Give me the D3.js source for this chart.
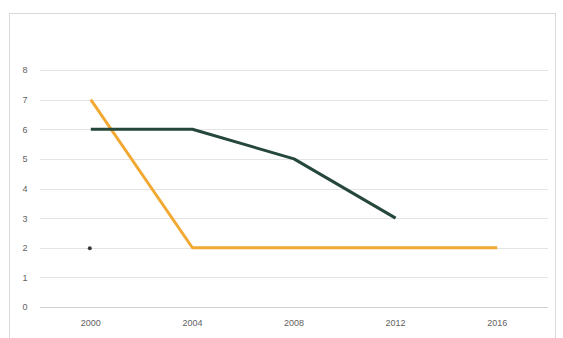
<!DOCTYPE html>
<html><head><meta charset="utf-8">
<script src="https://cdn.jsdelivr.net/npm/d3@7"></script>
<style>body{margin:0;background:#fff}</style>
</head><body>
<svg id="c" width="563" height="338"></svg>
<script>
const categories = ["2000","2004","2008","2012","2016"];
const seriesGreen = [6, 6, 5, 3, null];
const seriesOrange = [7, 2, 2, 2, 2];
const seriesDot = [2, null, null, null, null];
const yTicks = [0,1,2,3,4,5,6,7,8];

const svg = d3.select("#c");
svg.append("rect").attr("x",9.5).attr("y",13.5).attr("width",546).attr("height",330)
  .attr("fill","#fff").attr("stroke","#d9d9d9").attr("stroke-width",1);

const x = d3.scaleBand().domain(categories).range([40,548]);
const y = d3.scaleLinear().domain([0,8]).range([307,70]);

const g = svg.append("g");
g.selectAll(".grid").data(yTicks).enter().append("line")
  .attr("x1",40).attr("x2",548)
  .attr("y1",d=>Math.round(y(d))+0.5).attr("y2",d=>Math.round(y(d))+0.5)
  .attr("stroke",d=>d===0?"#d0d0d0":"#e4e4e4").attr("stroke-width",1);

const yAxis = d3.axisLeft(y).tickValues(yTicks).tickSize(0).tickPadding(0);
const ya = svg.append("g").attr("transform","translate(28,0)").call(yAxis);
ya.select(".domain").remove();
ya.selectAll("text").attr("font-family","Liberation Sans, Arial, sans-serif")
  .attr("font-size",9).attr("fill","#5f5f5f").attr("text-anchor","middle").attr("dx",-3);

const xAxis = d3.axisBottom(x).tickSize(0).tickPadding(0);
const xa = svg.append("g").attr("transform","translate(0,320)").call(xAxis);
xa.select(".domain").remove();
xa.selectAll("text").attr("font-family","Liberation Sans, Arial, sans-serif")
  .attr("font-size",9).attr("fill","#5f5f5f");

const cx = d => x(d) + x.bandwidth()/2;
const line = d3.line().defined(d=>d.v!=null).x(d=>cx(d.c)).y(d=>y(d.v));

svg.append("path")
  .datum(categories.map((c,i)=>({c,v:seriesOrange[i]})))
  .attr("d",line).attr("fill","none").attr("stroke","#F2A934").attr("stroke-width",3)
  .attr("stroke-linejoin","round");
svg.append("path")
  .datum(categories.map((c,i)=>({c,v:seriesGreen[i]})))
  .attr("d",line).attr("fill","none").attr("stroke","#26483A").attr("stroke-width",3)
  .attr("stroke-linejoin","round");

svg.selectAll(".dot").data(categories.map((c,i)=>({c,v:seriesDot[i]})).filter(d=>d.v!=null))
  .enter().append("circle")
  .attr("cx",d=>cx(d.c)-1).attr("cy",d=>y(d.v)+0.5).attr("r",2)
  .attr("fill","#3a3a3a");
</script>
</body></html>
